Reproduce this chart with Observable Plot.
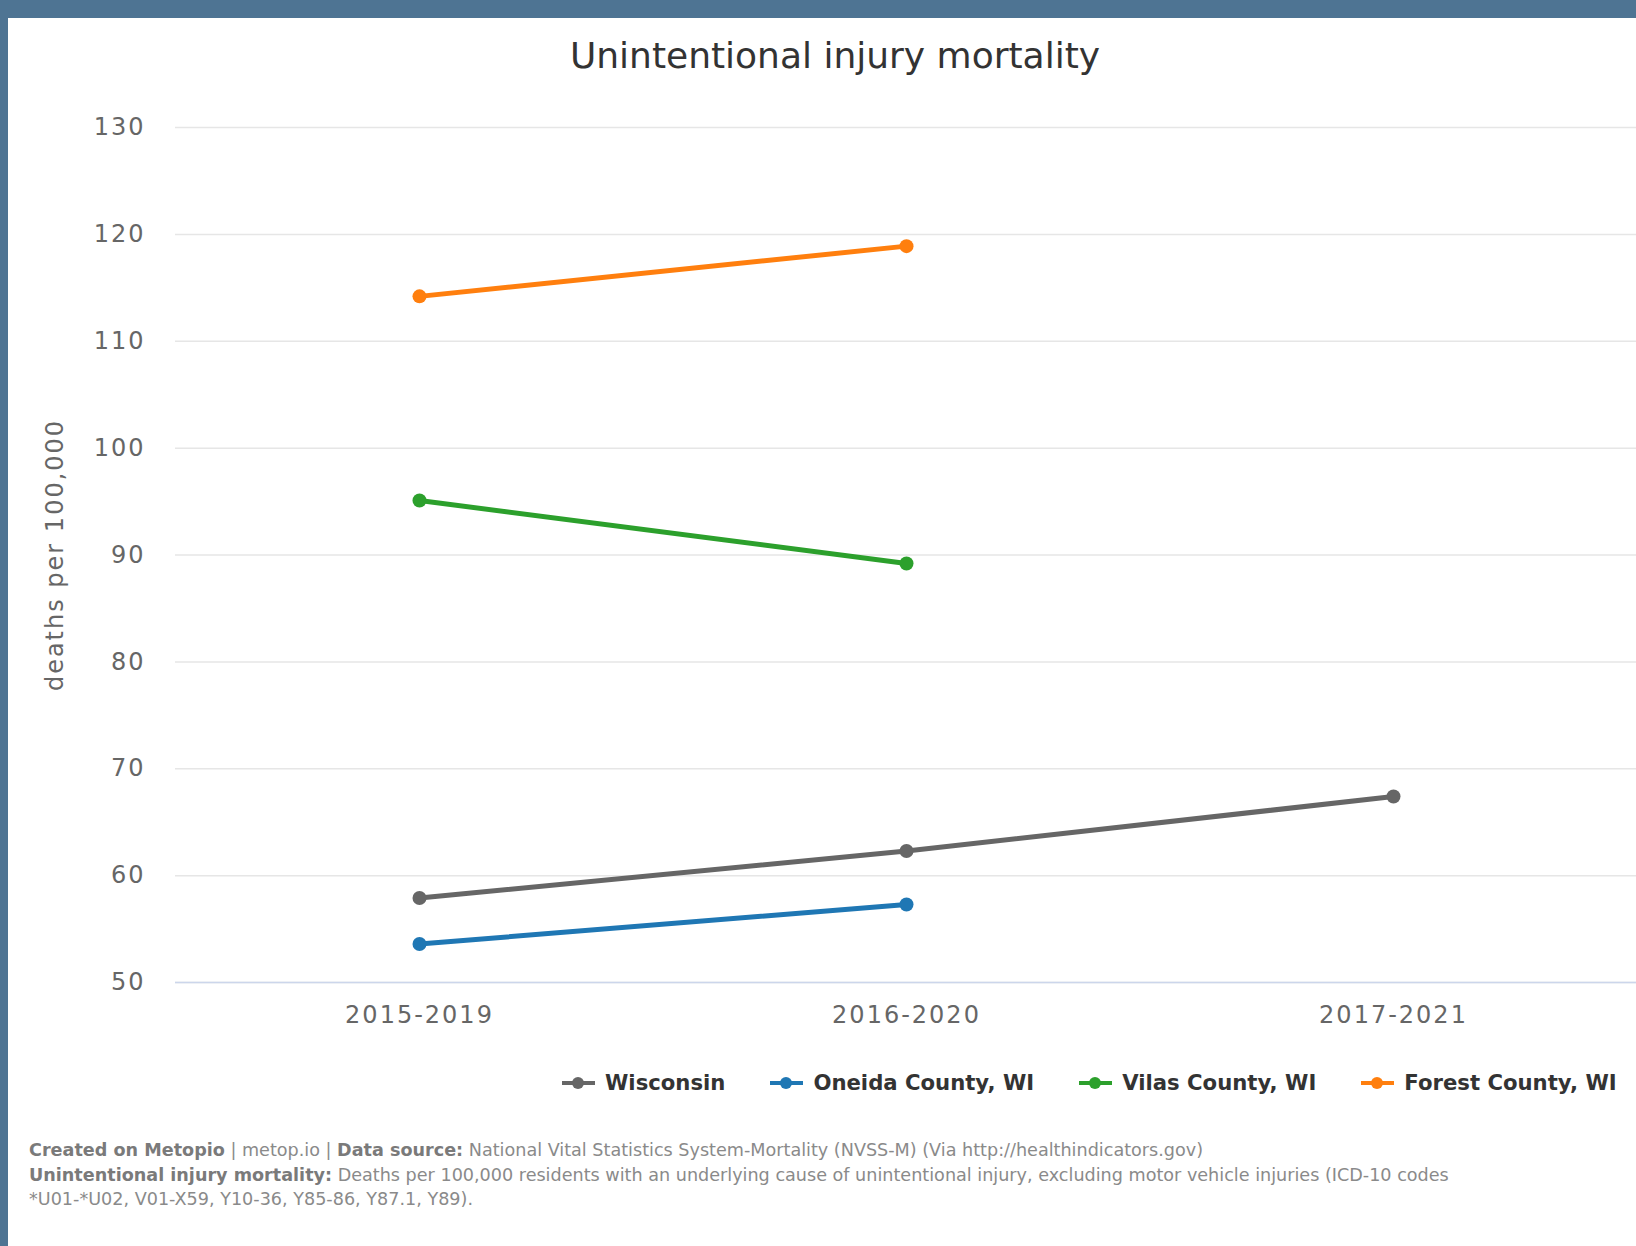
<!DOCTYPE html>
<html>
<head>
<meta charset="utf-8">
<script src="https://cdn.jsdelivr.net/npm/d3@7"></script>
<script src="https://cdn.jsdelivr.net/npm/@observablehq/plot@0.6"></script>
<style>
  html, body { margin: 0; padding: 0; }
  body { width: 1636px; height: 1246px; background: #4e7493; position: relative; overflow: hidden; font-family: "DejaVu Sans", sans-serif; }
  #panel { position: absolute; left: 8px; top: 18px; right: 0; bottom: 0; background: #ffffff; }
  #title { position: absolute; left: 17px; top: 34px; width: 1636px; text-align: center; font-size: 36px; color: #333333; line-height: 44px; }
  #chart { position: absolute; left: 8px; top: 91px; }
  #chart svg text { letter-spacing: 2px; }
  #legend { position: absolute; left: 562px; top: 1070px; display: flex; align-items: center; font-weight: bold; font-size: 21.2px; color: #333333; white-space: nowrap; }
  .item { display: flex; align-items: center; margin-right: 45px; white-space: nowrap; flex: none; }
  .sym { position: relative; width: 33px; height: 16px; margin-right: 10px; flex: none; }
  .sym .ln { position: absolute; left: 0; top: 6px; width: 33px; height: 4px; }
  .sym .dt { position: absolute; left: 10px; top: 2px; width: 12px; height: 12px; border-radius: 50%; }
  #caption { position: absolute; left: 29px; top: 1138px; font-size: 17.6px; line-height: 24.5px; color: #8a8a8a; white-space: nowrap; }
  #caption b { color: #7a7a7a; }
</style>
</head>
<body>
<div id="panel"></div>
<div id="title">Unintentional injury mortality</div>
<div id="chart"></div>
<div id="legend"></div>
<div id="caption"><b>Created on Metopio</b> | metop.io | <b>Data source:</b> National Vital Statistics System-Mortality (NVSS-M) (Via http://healthindicators.gov)<br><b>Unintentional injury mortality:</b> Deaths per 100,000 residents with an underlying cause of unintentional injury, excluding motor vehicle injuries (ICD-10 codes<br>*U01-*U02, V01-X59, Y10-36, Y85-86, Y87.1, Y89).</div>
<script>
// ---- data ----
const periods = ["2015-2019", "2016-2020", "2017-2021"];
const seriesNames = ["Wisconsin", "Oneida County, WI", "Vilas County, WI", "Forest County, WI"];
const seriesColors = ["#666666", "#1f77b4", "#2ca02c", "#ff7f0e"];
const wisconsin = [57.9, 62.3, 67.4];
const oneida = [53.6, 57.3, null];
const vilas = [95.1, 89.2, null];
const forest = [114.2, 118.9, null];
const yTicks = [50, 60, 70, 80, 90, 100, 110, 120, 130];

const seriesValues = [wisconsin, oneida, vilas, forest];
const rows = [];
seriesNames.forEach((name, i) => {
  seriesValues[i].forEach((v, j) => {
    if (v != null) rows.push({series: name, period: periods[j], value: v});
  });
});

const chart = Plot.plot({
  width: 1628,
  height: 950,
  marginLeft: 167,
  marginRight: 0,
  marginTop: 36,
  marginBottom: 59,
  style: {background: "transparent", fontFamily: "DejaVu Sans, sans-serif"},
  x: {type: "point", domain: periods, padding: 0.5},
  y: {domain: [50, 130]},
  color: {domain: seriesNames, range: seriesColors},
  marks: [
    Plot.gridY(yTicks, {stroke: "#e6e6e6", strokeOpacity: 1, strokeWidth: 1.5}),
    Plot.ruleY([50], {stroke: "#ccd6eb", strokeWidth: 1.5}),
    Plot.axisY(yTicks, {tickSize: 0, tickPadding: 30, fontSize: 24, fill: "#666666",
      label: "deaths per 100,000", labelAnchor: "center", labelArrow: "none", labelOffset: 130}),
    Plot.axisX({tickSize: 0, tickPadding: 23, fontSize: 24, fill: "#666666", label: null}),
    Plot.line(rows, {x: "period", y: "value", z: "series", stroke: "series", strokeWidth: 5, curve: "linear"}),
    Plot.dot(rows, {x: "period", y: "value", fill: "series", r: 7, stroke: "none"})
  ]
});
document.getElementById("chart").appendChild(chart);

// ---- legend ----
const legend = document.getElementById("legend");
seriesNames.forEach((name, i) => {
  const item = document.createElement("div");
  item.className = "item";
  if (i === seriesNames.length - 1) item.style.marginRight = "0";
  const sym = document.createElement("div");
  sym.className = "sym";
  const ln = document.createElement("div"); ln.className = "ln"; ln.style.background = seriesColors[i];
  const dt = document.createElement("div"); dt.className = "dt"; dt.style.background = seriesColors[i];
  sym.appendChild(ln); sym.appendChild(dt);
  const label = document.createElement("span");
  label.textContent = name;
  item.appendChild(sym); item.appendChild(label);
  legend.appendChild(item);
});
</script>
</body>
</html>
